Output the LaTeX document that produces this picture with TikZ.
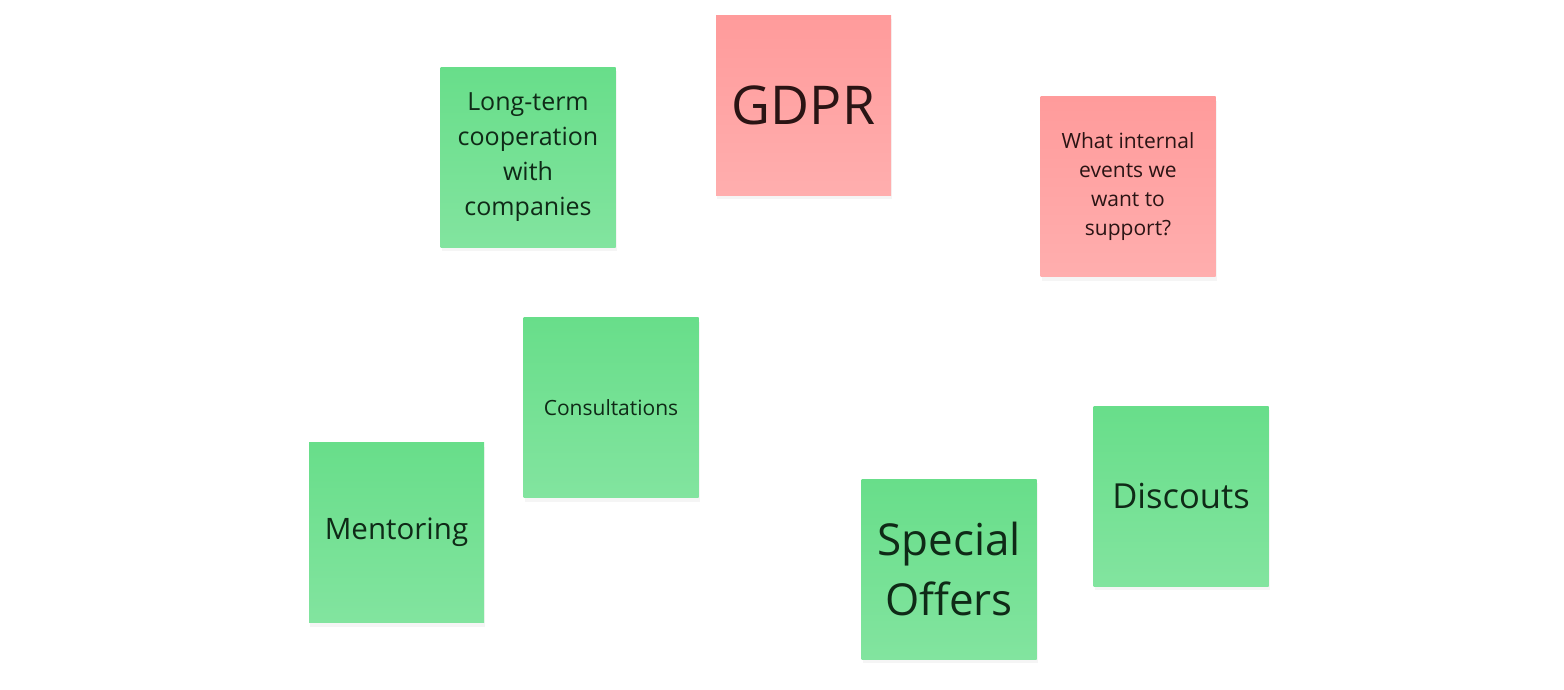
\documentclass[tikz,border=0pt]{standalone}
\usepackage{fontspec}
\setmainfont{Open Sans}
\usepackage{tikz}
\usetikzlibrary{shapes,positioning,shadows}
\usepackage{xcolor}

\definecolor{greentop}{HTML}{68DE8A}
\definecolor{greenbot}{HTML}{82E49F}
\definecolor{redtop}{HTML}{FF9B9B}
\definecolor{redbot}{HTML}{FFAEAE}
\definecolor{greentext}{HTML}{0F2A17}
\definecolor{redtext}{HTML}{2A1414}

\tikzset{
    note/.style={minimum width=175pt, minimum height=180pt, inner sep=0pt, align=center,
        drop shadow={shadow xshift=1pt, shadow yshift=-4pt, opacity=0.08}},
    greennote/.style={note, top color=greentop, bottom color=greenbot, text=greentext},
    rednote/.style={note, top color=redtop, bottom color=redbot, text=redtext},
}

\newcommand{\notesize}[2]{\fontsize{#1}{#2}\selectfont}

\begin{document}
\begin{tikzpicture}[x=1pt, y=-1pt]
    \useasboundingbox (0,0) rectangle (1564,689);
    \node [greennote, font=\notesize{25}{35}] (longterm) at (528,157) {Long-term\\cooperation\\with\\companies};
    \node [rednote, font=\notesize{53.5}{60}] (gdpr) at (803.5,105) {GDPR};
    \node [rednote, font=\notesize{21}{29}] (internal) at (1128,186.5) {What internal\\events we\\want to\\support?};
    \node [greennote, font=\notesize{21}{29}] (consult) at (611,407.5) {Consultations};
    \node [greennote, font=\notesize{29.5}{35}] (mentor) at (396.5,532.5) {Mentoring};
    \node [greennote, font=\notesize{44}{60}] (special) at (949,569) {Special\\Offers};
    \node [greennote, font=\notesize{34.5}{40}] (discouts) at (1181,496) {Discouts};
\end{tikzpicture}
\end{document}
